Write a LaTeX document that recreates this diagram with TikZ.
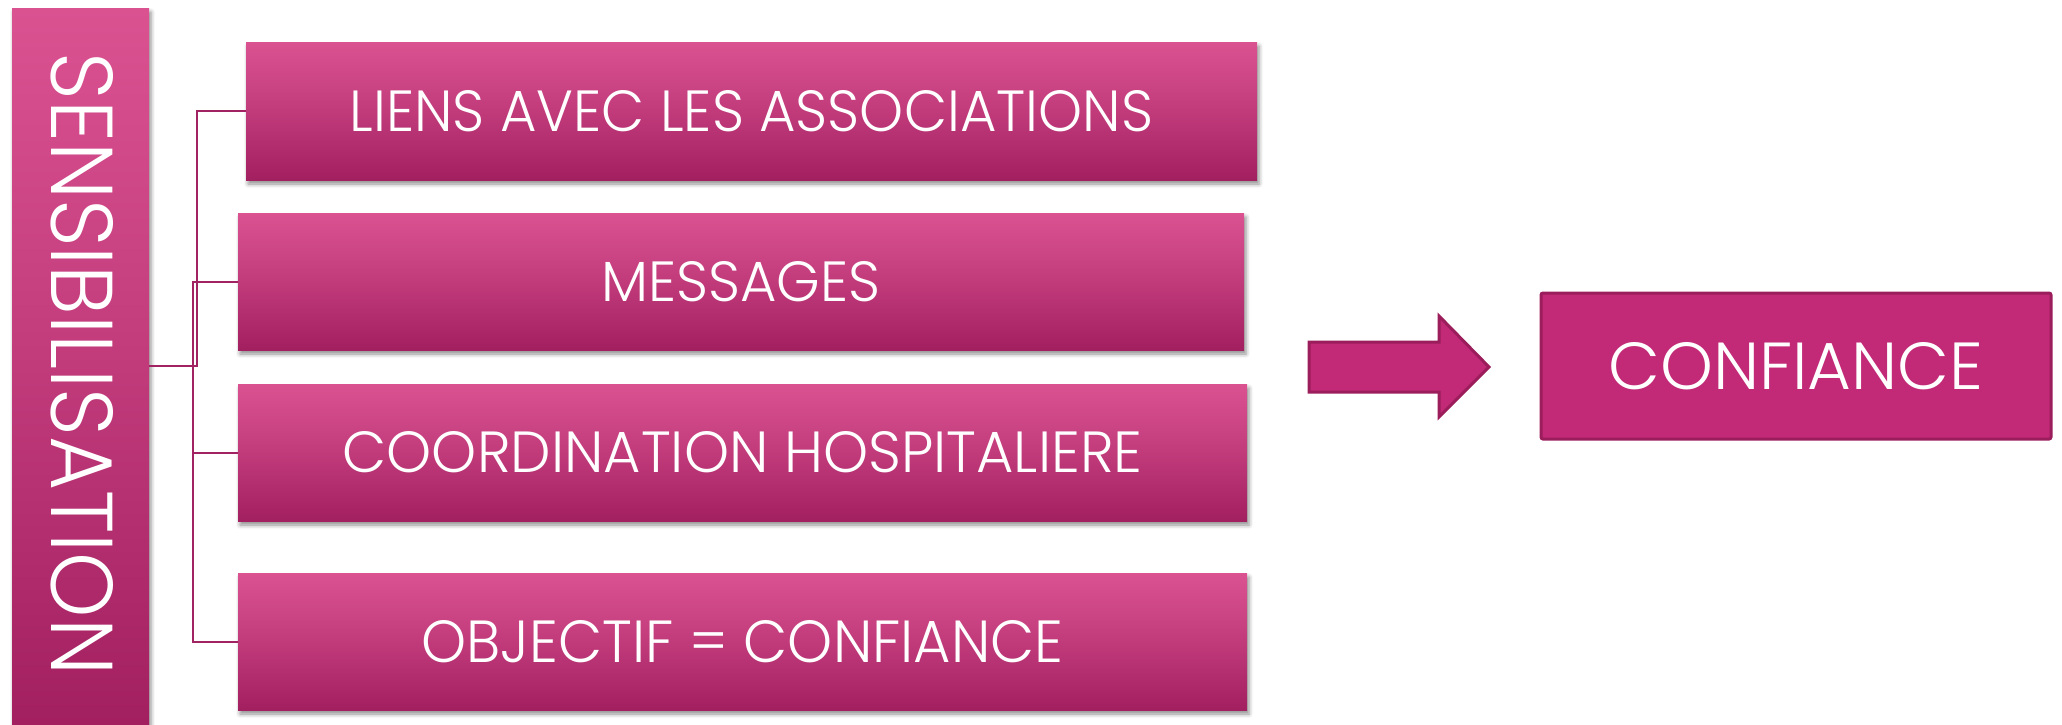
\documentclass[tikz,border=0pt]{standalone}
\usepackage{fontspec}
\setmainfont{Poppins Light}
\usetikzlibrary{shadows.blur}
\definecolor{pinktop}{HTML}{DB5291}
\definecolor{pinkmid}{HTML}{C13B7B}
\definecolor{pinkbot}{HTML}{A21F60}
\definecolor{lineclr}{HTML}{A12361}
\definecolor{solidpink}{HTML}{C22A77}
\definecolor{darkpink}{HTML}{9B1D5C}
\newcommand{\fittxt}[3]{\resizebox{#1pt}{#2pt}{#3}}
\tikzset{
  gradbox/.style={inner sep=0pt, outer sep=0pt, top color=pinktop, bottom color=pinkbot, middle color=pinkmid,
    text=white, blur shadow={shadow xshift=2pt, shadow yshift=-4pt, shadow blur radius=4pt, shadow opacity=45}},
  solidbox/.style={inner sep=0pt, outer sep=0pt, fill=solidpink, draw=darkpink, line width=3pt, rounded corners=2pt, text=white},
  conn/.style={draw=lineclr, line width=2pt},
  bigarrow/.style={fill=solidpink, draw=darkpink, line width=3pt, line join=miter}
}
\begin{document}
\begin{tikzpicture}[x=1pt,y=-1pt]
\useasboundingbox (0,0) rectangle (2062,724);
\node[gradbox, minimum width=137pt, minimum height=716pt] (sens) at (80.5,366) {};
\node[text=white, rotate=-90, inner sep=0pt] (senstxt) at (82,364) {\fittxt{622}{62}{SENSIBILISATION}};
\node[gradbox, minimum width=1011pt, minimum height=138pt] (b1) at (751.5,111) {\fittxt{803}{41}{LIENS AVEC LES ASSOCIATIONS}};
\node[gradbox, minimum width=1006pt, minimum height=137pt] (b2) at (741,281.5) {\fittxt{279}{40}{MESSAGES}};
\node[gradbox, minimum width=1009pt, minimum height=137pt] (b3) at (742.5,452.5) {\fittxt{800}{41}{COORDINATION HOSPITALIERE}};
\node[gradbox, minimum width=1009pt, minimum height=137pt] (b4) at (742.5,641.5) {\fittxt{642}{42}{OBJECTIF = CONFIANCE}};
\node[solidbox, minimum width=510pt, minimum height=146pt] (conf) at (1796,366) {\fittxt{375}{47}{CONFIANCE}};
\coordinate (j1) at (197,366);
\coordinate (j2) at (193,281.5);
\draw[conn] (sens.east) -- (j1) |- (b1.west);
\draw[conn] (b2.west) -- (j2) |- (b4.west);
\draw[conn] (b3.west) -- (j2 |- b3.west);
\draw[bigarrow] (1309,342) -- (1439,342) -- (1439,316) -- (1489,367) -- (1439,417) -- (1439,392) -- (1309,392) -- cycle;
\end{tikzpicture}
\end{document}
